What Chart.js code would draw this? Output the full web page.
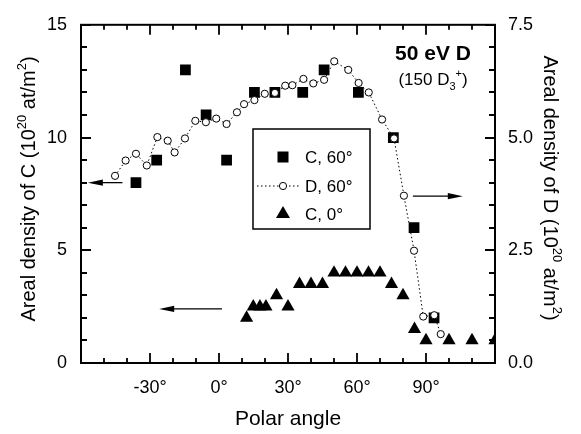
<!DOCTYPE html>
<html>
<head>
<meta charset="utf-8">
<script src="https://cdn.jsdelivr.net/npm/chart.js@4.4.0/dist/chart.umd.min.js"></script>
<style>
html, body { margin: 0; padding: 0; background: #fff; }
</style>
</head>
<body>
<canvas id="myChart" width="581" height="434"></canvas>
<script>
// C, 60 deg  (left axis, 10^20 at/m^2)
const c60Angle = [-36.1, -27.1, -14.6, -5.6, 3.3, 15.4, 24.3, 36.4, 45.7, 60.6, 75.8, 84.8, 93.5];
const c60Value = [8, 9, 13, 11, 9, 12, 12, 12, 13, 12, 10, 6, 2];

// D, 60 deg  (right axis, 10^20 at/m^2)
const d60Angle = [-45.2, -40.6, -36.1, -31.4, -26.8, -22.3, -19.3, -14.8, -10.3, -5.7, -1.2, 3.3, 7.8, 10.9,
                  15.4, 19.9, 24.3, 28.8, 31.9, 36.7, 41.0, 45.7, 50.1, 56.2, 60.7, 65.1, 70.9, 76.1, 80.4,
                  84.8, 88.8, 93.6, 96.4];
const d60Value = [4.15, 4.49, 4.64, 4.38, 5.01, 4.93, 4.67, 4.98, 5.37, 5.34, 5.42, 5.30, 5.56, 5.74,
                  5.83, 5.97, 5.99, 6.15, 6.16, 6.30, 6.20, 6.28, 6.69, 6.50, 6.21, 6.00, 5.40, 4.98, 3.71,
                  2.49, 1.03, 1.06, 0.64];

// C, 0 deg  (left axis)
const c0Angle = [12, 14.9, 17.8, 20.4, 25, 30, 35, 40, 45, 50, 55, 60, 65, 70, 75, 80, 85, 90, 100, 110, 120];
const c0Value = [2, 2.5, 2.5, 2.5, 3, 2.5, 3.5, 3.5, 3.5, 4, 4, 4, 4, 4, 3.5, 3, 1.5, 1, 1, 1, 1];

const xTicks = [-30, 0, 30, 60, 90];
const yLeftTicks = [0, 5, 10, 15];
const yRightTicks = [0, 2.5, 5, 7.5];

// arrows pointing to the axis each series belongs to: [x1, y1, x2, y2, axis]
const arrows = [
    [-42, 8, -57, 8, 'y'],
    [1.3, 2.4, -26, 2.4, 'y'],
    [84.3, 3.7, 106, 3.7, 'y1']
];

const FONT = "'Liberation Sans', Arial, Helvetica, sans-serif";
Chart.defaults.font.family = FONT;
Chart.defaults.color = '#000';

function pts(xs, ys) {
    return xs.map((x, i) => ({ x: x, y: ys[i] }));
}

// draws text with small raised / lowered parts: [text, 'n'|'sup'|'sub']
function richText(ctx, parts, x, y, size, align) {
    const small = Math.round(size * 0.65);
    let total = 0;
    parts.forEach(p => {
        ctx.font = (p[1] === 'n' ? size : small) + 'px ' + FONT;
        total += ctx.measureText(p[0]).width;
    });
    let cx = align === 'center' ? x - total / 2 : x;
    ctx.textAlign = 'left';
    ctx.textBaseline = 'alphabetic';
    parts.forEach(p => {
        ctx.font = (p[1] === 'n' ? size : small) + 'px ' + FONT;
        let dy = 0;
        if (p[1] === 'sup') dy = -size * 0.45;
        if (p[1] === 'sub') dy = size * 0.3;
        ctx.fillText(p[0], cx, y + dy);
        cx += ctx.measureText(p[0]).width;
    });
}

const extras = {
    id: 'extras',
    afterDraw(chart) {
        const ctx = chart.ctx;
        const a = chart.chartArea;
        const sx = chart.scales.x, sy = chart.scales.y, sy1 = chart.scales.y1;
        ctx.save();
        ctx.strokeStyle = '#000';
        ctx.fillStyle = '#000';

        // frame
        ctx.lineWidth = 2;
        ctx.strokeRect(a.left, a.top, a.right - a.left, a.bottom - a.top);

        // inward ticks
        ctx.lineWidth = 1.8;
        ctx.beginPath();
        for (let v = -60; v <= 120; v += 10) {
            const px = Math.round(sx.getPixelForValue(v));
            const len = Math.abs(v % 30) === 0 ? 10 : 5;
            ctx.moveTo(px, a.bottom); ctx.lineTo(px, a.bottom - len);
            ctx.moveTo(px, a.top); ctx.lineTo(px, a.top + len);
        }
        for (let v = 0; v <= 15; v += 1) {
            const py = Math.round(sy.getPixelForValue(v));
            const len = v % 5 === 0 ? 10 : 6;
            ctx.moveTo(a.left, py); ctx.lineTo(a.left + len, py);
        }
        for (let v = 0; v <= 7.5; v += 0.5) {
            const py = Math.round(sy1.getPixelForValue(v));
            const len = v % 2.5 === 0 ? 10 : 6;
            ctx.moveTo(a.right, py); ctx.lineTo(a.right - len, py);
        }
        ctx.stroke();

        // arrows
        ctx.lineWidth = 1.3;
        arrows.forEach(ar => {
            const s = chart.scales[ar[4]];
            const x1 = sx.getPixelForValue(ar[0]), y1 = s.getPixelForValue(ar[1]);
            const x2 = sx.getPixelForValue(ar[2]), y2 = s.getPixelForValue(ar[3]);
            const dir = x2 > x1 ? 1 : -1;
            ctx.beginPath();
            ctx.moveTo(x1, y1); ctx.lineTo(x2 - dir * 12, y2);
            ctx.stroke();
            ctx.beginPath();
            ctx.moveTo(x2, y2);
            ctx.lineTo(x2 - dir * 15, y2 - 3.2);
            ctx.lineTo(x2 - dir * 15, y2 + 3.2);
            ctx.closePath();
            ctx.fill();
        });

        // legend box
        const lx = 253, ly = 129, lw = 117, lh = 100;
        ctx.lineWidth = 1.5;
        ctx.strokeRect(lx, ly, lw, lh);
        const rows = [157, 186, 214];
        const mx = 283;
        ctx.fillRect(mx - 5.5, rows[0] - 5.5, 11, 11);
        ctx.lineWidth = 1;
        ctx.setLineDash([1.5, 2.5]);
        ctx.beginPath();
        ctx.moveTo(lx + 4, rows[1]); ctx.lineTo(lx + 48, rows[1]);
        ctx.stroke();
        ctx.setLineDash([]);
        ctx.beginPath();
        ctx.arc(mx, rows[1], 3.6, 0, Math.PI * 2);
        ctx.fillStyle = '#fff';
        ctx.fill();
        ctx.stroke();
        ctx.fillStyle = '#000';
        ctx.beginPath();
        ctx.moveTo(mx, rows[2] - 8);
        ctx.lineTo(mx + 7, rows[2] + 4);
        ctx.lineTo(mx - 7, rows[2] + 4);
        ctx.closePath();
        ctx.fill();
        ctx.font = '17px ' + FONT;
        ctx.textAlign = 'left';
        ctx.textBaseline = 'middle';
        ctx.fillText('C, 60°', 305, rows[0] + 1);
        ctx.fillText('D, 60°', 305, rows[1] + 1);
        ctx.fillText('C, 0°', 305, rows[2] + 1);

        // energy label
        ctx.font = 'bold 21px ' + FONT;
        ctx.textAlign = 'center';
        ctx.textBaseline = 'alphabetic';
        ctx.fillText('50 eV D', 433, 60);
        richText(ctx, [['(150 D', 'n'], ['3', 'sub'], ['+', 'sup'], [')', 'n']], 433, 85, 17, 'center');

        // y axis titles
        ctx.save();
        ctx.translate(35, 189);
        ctx.rotate(-Math.PI / 2);
        richText(ctx, [['Areal density of C (10', 'n'], ['20', 'sup'], [' at/m', 'n'], ['2', 'sup'], [')', 'n']], 0, 0, 20, 'center');
        ctx.restore();
        ctx.save();
        ctx.translate(544, 188);
        ctx.rotate(Math.PI / 2);
        richText(ctx, [['Areal density of D (10', 'n'], ['20', 'sup'], [' at/m', 'n'], ['2', 'sup'], [')', 'n']], 0, 0, 20, 'center');
        ctx.restore();

        ctx.restore();
    }
};

const ctx = document.getElementById('myChart').getContext('2d');
const chart = new Chart(ctx, {
    type: 'scatter',
    data: {
        datasets: [
            {
                label: 'D, 60°',
                data: pts(d60Angle, d60Value),
                yAxisID: 'y1',
                showLine: true,
                borderColor: '#000',
                borderWidth: 1,
                borderDash: [1.5, 2.5],
                pointStyle: 'circle',
                pointRadius: 3.6,
                pointBorderWidth: 1,
                pointBackgroundColor: '#fff',
                pointBorderColor: '#000',
                order: 0
            },
            {
                label: 'C, 60°',
                data: pts(c60Angle, c60Value),
                yAxisID: 'y',
                pointStyle: 'rect',
                pointRadius: 7.6,
                pointBorderWidth: 0,
                pointBackgroundColor: '#000',
                pointBorderColor: '#000',
                order: 1
            },
            {
                label: 'C, 0°',
                data: pts(c0Angle, c0Value),
                yAxisID: 'y',
                pointStyle: 'triangle',
                pointRadius: 7.6,
                pointBorderWidth: 0,
                pointBackgroundColor: '#000',
                pointBorderColor: '#000',
                order: 2
            }
        ]
    },
    options: {
        responsive: false,
        animation: false,
        layout: { padding: { top: 17, left: 0, right: 0, bottom: 0 } },
        plugins: { legend: { display: false }, tooltip: { enabled: false } },
        scales: {
            x: {
                type: 'linear',
                min: -60,
                max: 120,
                afterBuildTicks: s => { s.ticks = xTicks.map(v => ({ value: v })); },
                ticks: { callback: v => v + '°', font: { size: 18 }, color: '#000', padding: 14, maxRotation: 0 },
                grid: { display: false, drawTicks: false },
                border: { display: false },
                title: { display: true, text: 'Polar angle', font: { size: 21 }, color: '#000', padding: { top: 0, bottom: 2 } },
                afterFit: s => { s.height = 71; }
            },
            y: {
                position: 'left',
                min: 0,
                max: 15,
                afterBuildTicks: s => { s.ticks = yLeftTicks.map(v => ({ value: v })); },
                ticks: { font: { size: 18 }, color: '#000', padding: 14 },
                grid: { display: false, drawTicks: false },
                border: { display: false },
                afterFit: s => { s.width = 81; }
            },
            y1: {
                position: 'right',
                min: 0,
                max: 7.5,
                afterBuildTicks: s => { s.ticks = yRightTicks.map(v => ({ value: v })); },
                ticks: { callback: v => v.toFixed(1), font: { size: 18 }, color: '#000', padding: 13 },
                grid: { display: false, drawTicks: false },
                border: { display: false },
                afterFit: s => { s.width = 86; }
            }
        }
    },
    plugins: [extras]
});
</script>
</body>
</html>
